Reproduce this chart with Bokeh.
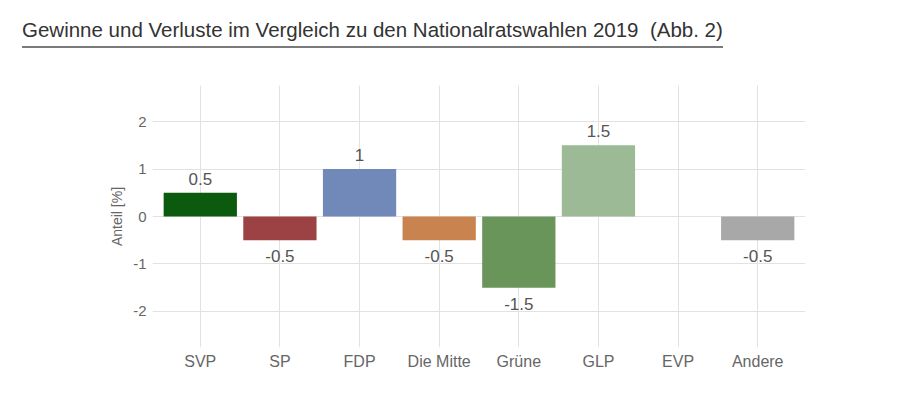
from bokeh.plotting import figure
from bokeh.models import ColumnDataSource, FactorRange, Range1d, Div, LabelSet, FixedTicker
from bokeh.core.properties import value
from bokeh.layouts import column
from bokeh.embed import file_html
from bokeh.resources import INLINE

parties = ["SVP", "SP", "FDP", "Die Mitte", "Grüne", "GLP", "EVP", "Andere"]
changes = [0.5, -0.5, 1, -0.5, -1.5, 1.5, 0, -0.5]
colors = ["#0b5a0e", "#9c4245", "#7189b8", "#c8834f", "#6a955a", "#9dba96", "#ffffff", "#a8a8a8"]
y_ticks = [-2, -1, 0, 1, 2]
y_tick_labels = ["-2", "-1", "0", "1", "2"]

pos_lbl = [str(v) if v > 0 else "" for v in changes]
neg_lbl = [str(v) if v < 0 else "" for v in changes]
pos_y = [v if v > 0 else 0 for v in changes]
neg_y = [v if v < 0 else 0 for v in changes]

src = ColumnDataSource(dict(x=parties, top=changes, color=colors,
                            pos_lbl=pos_lbl, neg_lbl=neg_lbl, pos_y=pos_y, neg_y=neg_y))

title_html = ('<div style="position:absolute; left:22px; top:15px; '
              'font-family:\'Liberation Sans\', sans-serif; font-size:20.5px; '
              'color:#333333; white-space:nowrap; border-bottom:2px solid #7a7a7a; padding-bottom:2px;">'
              'Gewinne und Verluste im Vergleich zu den Nationalratswahlen 2019&nbsp; (Abb. 2)</div>')
div = Div(text=title_html, width=900, height=55, margin=(0, 0, 0, 0),
          styles={"position": "relative"})

p = figure(x_range=FactorRange(*parties, range_padding=0.025), y_range=Range1d(-2.76, 2.76),
           width=900, height=352, output_backend="svg", toolbar_location=None,
           min_border_left=152, min_border_right=95, min_border_top=30, min_border_bottom=60,
           outline_line_color=None, margin=(0, 0, 0, 0))

p.vbar(x="x", top="top", bottom=0, width=0.92, fill_color="color", line_color=None, source=src)

font = "Liberation Sans"
p.add_layout(LabelSet(x="x", y="pos_y", text="pos_lbl", source=src, text_align="center",
                      text_baseline="bottom", y_offset=8, text_font=value(font),
                      text_font_size="17px", text_color="#555555"))
p.add_layout(LabelSet(x="x", y="neg_y", text="neg_lbl", source=src, text_align="center",
                      text_baseline="top", y_offset=-10, text_font=value(font),
                      text_font_size="17px", text_color="#555555"))

p.yaxis.ticker = FixedTicker(ticks=y_ticks)
p.yaxis.major_label_overrides = dict(zip(y_ticks, y_tick_labels))
p.yaxis.axis_label = "Anteil [%]"
p.yaxis.axis_label_text_font = font
p.yaxis.axis_label_text_font_style = "normal"
p.yaxis.axis_label_text_font_size = "14px"
p.yaxis.axis_label_text_color = "#666666"
p.yaxis.axis_label_standoff = 5
for ax in (p.xaxis, p.yaxis):
    ax.axis_line_color = None
    ax.major_tick_line_color = None
    ax.minor_tick_line_color = None
    ax.major_tick_out = 0
    ax.major_tick_in = 0
    ax.minor_tick_out = 0
    ax.minor_tick_in = 0
    ax.major_label_text_font = font
    ax.major_label_text_color = "#666666"
p.yaxis.major_label_text_font_size = "15px"
p.yaxis.major_label_standoff = 6
p.xaxis.major_label_text_font_size = "16px"
p.xaxis.major_label_standoff = 5

p.xgrid.grid_line_color = "#e2e2e2"
p.ygrid.grid_line_color = "#e2e2e2"
p.ygrid.ticker = FixedTicker(ticks=y_ticks)

layout = column(div, p, spacing=0, margin=(0, 0, 0, 0))
open("out.html", "w").write(file_html(layout, INLINE))
